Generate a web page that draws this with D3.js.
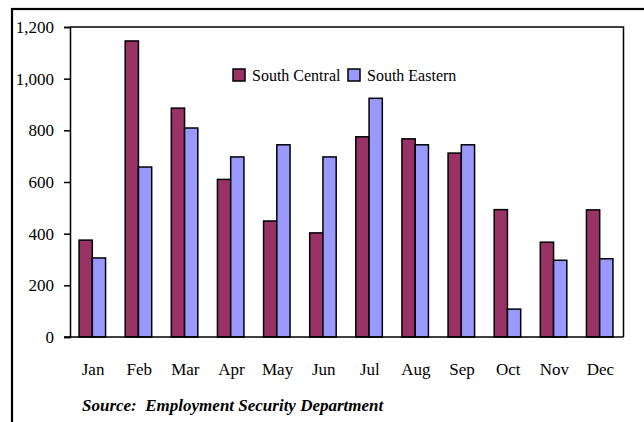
<!DOCTYPE html>
<meta charset="utf-8">
<style>
    body { margin: 0; background: #fff; }
    text { font-family: "Liberation Serif", "Times New Roman", serif; fill: #000; }
    .tick text { font-size: 17px; }
    .legend text { font-size: 16px; }
    .source { font-size: 17px; font-style: italic; font-weight: bold; }
</style>
<svg width="644" height="422"></svg>
<script src="https://cdnjs.cloudflare.com/ajax/libs/d3/7.8.5/d3.min.js"></script>
<script>

    var months = ["Jan", "Feb", "Mar", "Apr", "May", "Jun", "Jul", "Aug", "Sep", "Oct", "Nov", "Dec"];
    var seriesNames = ["South Central", "South Eastern"];
    var southCentral = [375, 1146, 886, 610, 449, 403, 775, 767, 712, 493, 367, 492];
    var southEastern = [306, 658, 809, 697, 744, 697, 924, 744, 744, 108, 297, 303];
    var yTicks = [0, 200, 400, 600, 800, 1000, 1200];
    var colors = ["#993366", "#9999ff"];

    var svg = d3.select("svg"),
        plotLeft = 70, plotTop = 27, plotRight = 623.5, plotBottom = 337;

    // outer frame, runs off the picture at right and bottom
    svg.append("rect")
        .attr("x", 12).attr("y", 9)
        .attr("width", 700).attr("height", 500)
        .attr("fill", "none")
        .attr("stroke", "#000")
        .attr("stroke-width", 2.2);

    var x = d3.scaleBand().domain(months).range([plotLeft, plotRight]).paddingInner(0).paddingOuter(0);
    var x1 = d3.scaleBand().domain(seriesNames).range([0, 26.5]);
    var y = d3.scaleLinear().domain([0, 1200]).range([plotBottom, plotTop]);

    var data = months.map(function (m, i) {
        return { month: m, values: [southCentral[i], southEastern[i]] };
    });

    // plot frame top / right
    svg.append("path")
        .attr("d", "M" + plotLeft + "," + plotTop + "H" + plotRight + "V" + plotBottom)
        .attr("fill", "none")
        .attr("stroke", "#000")
        .attr("stroke-width", 1.5);

    var groups = svg.selectAll(".grp")
        .data(data)
        .enter().append("g")
        .attr("class", "grp")
        .attr("transform", function (d) { return "translate(" + (x(d.month) + x.bandwidth() / 2 - 14) + ",0)"; });

    groups.selectAll("rect")
        .data(function (d) { return d.values.map(function (v, i) { return { key: seriesNames[i], value: v, i: i }; }); })
        .enter().append("rect")
        .attr("x", function (d) { return x1(d.key); })
        .attr("y", function (d) { return y(d.value); })
        .attr("width", x1.bandwidth())
        .attr("height", function (d) { return plotBottom - y(d.value); })
        .attr("fill", function (d) { return colors[d.i]; })
        .attr("stroke", "#000")
        .attr("stroke-width", 1.5);

    // y axis
    var yAxis = svg.append("g")
        .attr("transform", "translate(" + plotLeft + ",0)")
        .call(d3.axisLeft(y).tickValues(yTicks).tickSize(6).tickPadding(10).tickFormat(d3.format(",")));
    yAxis.select(".domain").attr("stroke-width", 1.5);
    yAxis.selectAll(".tick line").attr("stroke-width", 1.5);
    yAxis.selectAll(".tick text").attr("font-family", null).attr("font-size", null);

    // x axis line (no ticks)
    var xAxis = svg.append("g")
        .attr("transform", "translate(0," + plotBottom + ")")
        .call(d3.axisBottom(x).tickSize(0).tickPadding(26));
    xAxis.select(".domain").attr("stroke-width", 1.5).attr("d", "M" + (plotLeft - 6) + ",0H" + plotRight);
    xAxis.selectAll(".tick text").attr("font-family", null).attr("font-size", null);

    // legend
    var legend = svg.append("g").attr("class", "legend");
    var legendX = [233, 348];
    seriesNames.forEach(function (name, i) {
        legend.append("rect")
            .attr("x", legendX[i]).attr("y", 69)
            .attr("width", 12).attr("height", 12)
            .attr("fill", colors[i])
            .attr("stroke", "#000")
            .attr("stroke-width", 1.5);
        legend.append("text")
            .attr("x", legendX[i] + 19).attr("y", 81)
            .text(name);
    });

    svg.append("text")
        .attr("class", "source")
        .attr("x", 82).attr("y", 411)
        .attr("xml:space", "preserve")
        .text("Source:  Employment Security Department");

</script>
